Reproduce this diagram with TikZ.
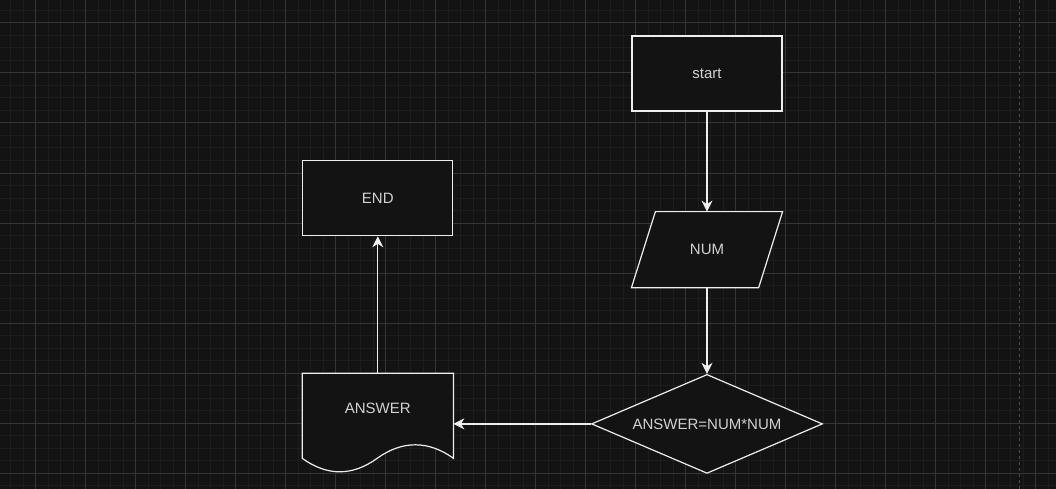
\documentclass[tikz,border=0pt]{standalone}
\usepackage{fontspec}
\setmainfont{Liberation Sans}
\usetikzlibrary{positioning,shapes.geometric,arrows.meta,calc}
\definecolor{bgcol}{HTML}{131313}
\definecolor{minorcol}{HTML}{1D1D1D}
\definecolor{majorcol}{HTML}{353535}
\definecolor{pagecol}{HTML}{4A4A4A}
\definecolor{linecol}{HTML}{EEEEEE}
\definecolor{txtcol}{HTML}{D2D2D2}
\begin{document}
\begin{tikzpicture}[x=1pt, y=-1pt, node distance=100pt]
    \tikzstyle{box} = [draw=linecol, fill=bgcol, line width=1.2pt,
        minimum width=150pt, minimum height=75pt, inner sep=0pt,
        text=txtcol, font=\fontsize{15}{18}\selectfont]
    \tikzstyle{hidden} = [box, draw=none, fill=none]
    \tikzstyle{decision} = [box, diamond, aspect=2.33, minimum width=231pt, minimum height=99pt]
    \tikzstyle{outline} = [draw=linecol, fill=bgcol, line width=1.2pt, line join=miter]
    \tikzstyle{flow} = [draw=linecol, line width=1.2pt,
        arrows={-Stealth[length=11pt, width=11pt, inset=3.5pt, fill=linecol]}]
    \useasboundingbox (0,0) rectangle (1056,489);
    \fill[bgcol] (0,0) rectangle (1056,489);
    \foreach \k in {0,...,83}
        \draw[minorcol, line width=1pt] ({10.5+12.5*\k},0) -- ++(0,489);
    \foreach \k in {0,...,38}
        \draw[minorcol, line width=1pt] (0,{10.5+12.5*\k}) -- ++(1056,0);
    \foreach \k in {0,...,20}
        \draw[majorcol, line width=1pt] ({35.5+50*\k},0) -- ++(0,489);
    \foreach \k in {0,...,9}
        \draw[majorcol, line width=1pt] (0,{23+50*\k}) -- ++(1056,0);
    \draw[pagecol, line width=1pt, dash pattern=on 3pt off 3pt] (1019,0) -- (1019,489);

    \node[box] (start) at (707,73.5) {start};
    \node[hidden, below=100pt of start] (num) {};
    \path[outline] ($(num.north west)+(24,0)$) -- (num.north east)
        -- ($(num.south east)+(-24,0)$) -- (num.south west) -- cycle;
    \node[text=txtcol, font=\fontsize{15}{18}\selectfont] at (num) {NUM};
    \node[decision, below=86pt of num] (calc) {ANSWER=NUM*NUM};
    \node[hidden, minimum height=100pt, left=137.5pt of calc] (answer) {};
    \path[outline] (answer.north west) -- (answer.north east) -- ++(0,85)
        .. controls ++(-25,-18) and ($(answer.north west)+(100,67)$) .. ($(answer.north west)+(75,85)$)
        .. controls ++(-25,18) and ($(answer.north west)+(25,103)$) .. ($(answer.north west)+(0,85)$)
        -- cycle;
    \node[text=txtcol, font=\fontsize{15}{18}\selectfont] at ($(answer.north)+(0,35)$) {ANSWER};
    \node[box, above=137pt of answer] (end) {END};

    \draw[flow] (start) -- (num);
    \draw[flow] (num) -- (calc);
    \draw[flow] (calc) -- (answer);
    \draw[flow] (answer) -- (end);
\end{tikzpicture}
\end{document}
